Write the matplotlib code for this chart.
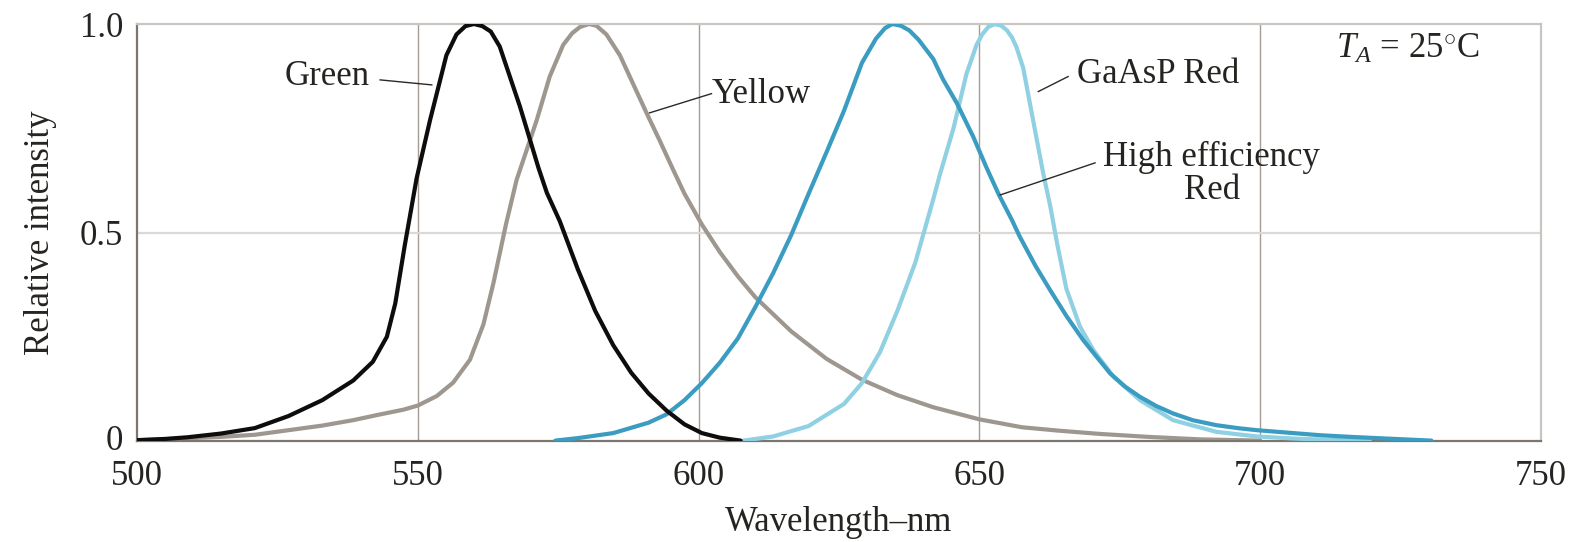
import numpy as np
import matplotlib
matplotlib.use('Agg')
import matplotlib.pyplot as plt
import matplotlib.transforms as mtransforms

plt.rcParams['font.family'] = ['Liberation Serif', 'DejaVu Serif']
plt.rcParams['mathtext.fontset'] = 'custom'
plt.rcParams['mathtext.it'] = 'Liberation Serif:italic'
plt.rcParams['mathtext.rm'] = 'Liberation Serif'

# --- data (wavelength nm, relative intensity) ---
green_wl = [500, 505, 509, 515, 521, 527, 533, 538.5, 542, 544.5, 546, 547.7,
            549.8, 552.2, 553.7, 555.1, 556.9, 558.5, 560, 561.5, 563, 564.6,
            566.4, 568.2, 570, 571.5, 573, 575.3, 578.5, 581.6, 584.8, 588,
            591.1, 594.3, 597.5, 600.6, 603.8, 607.5]
green_i = [0.002, 0.005, 0.009, 0.018, 0.031, 0.060, 0.098, 0.145, 0.190, 0.250,
           0.330, 0.470, 0.630, 0.770, 0.850, 0.925, 0.975, 0.995, 1.0, 0.995,
           0.982, 0.946, 0.874, 0.802, 0.722, 0.655, 0.595, 0.527, 0.412, 0.312,
           0.230, 0.164, 0.114, 0.073, 0.040, 0.019, 0.008, 0.001]

yellow_wl = [500, 508, 515, 521, 527, 533, 538.5, 543, 547.4, 550, 553.4, 556.3,
             559.3, 561.7, 563.5, 565.7, 567.6, 569.2, 571.2, 573.5, 575.9, 577.5,
             578.9, 580.5, 581.8, 583.6, 586, 588.4, 590.8, 593.1, 595.5, 597.5,
             600.6, 603.8, 607, 610.1, 616.5, 622.8, 629.1, 635.4, 641.8, 650,
             657.6, 664, 671.5, 680, 689.3, 700]
yellow_i = [0.002, 0.006, 0.010, 0.015, 0.026, 0.037, 0.050, 0.063, 0.075, 0.085,
            0.108, 0.140, 0.195, 0.280, 0.380, 0.519, 0.626, 0.690, 0.770, 0.874,
            0.950, 0.978, 0.993, 1.0, 0.996, 0.975, 0.925, 0.855, 0.785, 0.720,
            0.650, 0.593, 0.519, 0.453, 0.395, 0.345, 0.263, 0.197, 0.147, 0.110,
            0.081, 0.052, 0.033, 0.025, 0.017, 0.010, 0.004, 0.001]

he_red_wl = [574.5, 578.5, 584.8, 591.1, 594.3, 597.5, 600.6, 603.8, 607, 610.1,
             613.3, 616.5, 619.6, 622.8, 625.9, 629.1, 631.6, 633.2, 634.5, 636,
             637.5, 639.2, 641.8, 643.5, 646, 648.9, 651.3, 653.5, 655.8, 657.2,
             660, 662.6, 665.5, 668.5, 671, 673.3, 676, 678.6, 681.5, 684.5, 688,
             692.2, 696, 699.4, 705, 710.6, 716, 722.4, 730.5]
he_red_i = [0.001, 0.007, 0.019, 0.044, 0.064, 0.098, 0.139, 0.188, 0.246, 0.321,
            0.403, 0.494, 0.593, 0.693, 0.792, 0.907, 0.965, 0.990, 1.0, 0.996,
            0.985, 0.962, 0.916, 0.868, 0.810, 0.730, 0.655, 0.590, 0.530, 0.490,
            0.420, 0.362, 0.300, 0.242, 0.200, 0.162, 0.130, 0.106, 0.084, 0.066,
            0.050, 0.038, 0.031, 0.026, 0.020, 0.014, 0.010, 0.006, 0.001]

gaasp_wl = [608, 613.3, 619.6, 625.9, 629.1, 632.3, 635.4, 638.6, 641.8, 643,
            645.4, 647.7, 649.5, 650.5, 651.6, 652.8, 653.9, 654.9, 655.8, 656.6,
            657.8, 659, 660.2, 661.4, 662.6, 663.9, 665.5, 667.9, 670.3, 673.9,
            678.6, 684.5, 692.2, 699.4, 706, 712, 719.5]
gaasp_i = [0.001, 0.011, 0.036, 0.089, 0.139, 0.213, 0.312, 0.428, 0.580, 0.640,
           0.750, 0.880, 0.950, 0.975, 0.993, 1.0, 0.996, 0.985, 0.968, 0.945,
           0.895, 0.810, 0.725, 0.640, 0.565, 0.470, 0.365, 0.275, 0.218, 0.154,
           0.098, 0.050, 0.022, 0.011, 0.006, 0.003, 0.001]

x_ticks = [500, 550, 600, 650, 700, 750]
y_ticks = [0, 0.5, 1.0]
y_tick_labels = ['0', '0.5', '1.0']

text_col = '#262421'
fs = 25

fig = plt.figure(figsize=(15.74, 5.42), dpi=100)
ax = fig.add_axes([0.087, 0.1863, 0.892, 0.7694])

# grid
for xv in x_ticks[1:-1]:
    ax.axvline(xv, color='#a39d96', lw=1.0, zorder=0)
ax.axhline(0.5, color='#dcd8d4', lw=1.6, zorder=0)

lw = 3.0
ax.plot(yellow_wl, yellow_i, color='#9d978f', lw=lw, zorder=2,
        solid_capstyle='round', solid_joinstyle='round')
ax.plot(gaasp_wl, gaasp_i, color='#8fd0e2', lw=lw, zorder=3,
        solid_capstyle='round', solid_joinstyle='round')
ax.plot(he_red_wl, he_red_i, color='#3a9cc0', lw=lw, zorder=4,
        solid_capstyle='round', solid_joinstyle='round')
ax.plot(green_wl, green_i, color='#0e0d0c', lw=lw, zorder=5,
        solid_capstyle='round', solid_joinstyle='round')

ax.set_xlim(500, 750)
ax.set_ylim(0, 1.0)
ax.set_xticks(x_ticks)
ax.set_yticks(y_ticks)
ax.set_yticklabels(y_tick_labels)
ax.tick_params(length=0, labelsize=fs, labelcolor=text_col)
ax.tick_params(axis='x', pad=14)
ax.tick_params(axis='y', pad=10)

# nudge the "0" up a few pixels so it clears the "500" below it
zero_lbl = ax.get_yticklabels()[0]
zero_lbl.set_transform(zero_lbl.get_transform() +
                       mtransforms.ScaledTranslation(0, 4 / 100, fig.dpi_scale_trans))

for side in ['top', 'right']:
    ax.spines[side].set_color('#c9c5c0')
    ax.spines[side].set_linewidth(1.6)
for side in ['left', 'bottom']:
    ax.spines[side].set_color('#7d766e')
    ax.spines[side].set_linewidth(1.6)

ax.set_xlabel('Wavelength\u2013nm', fontsize=fs, color=text_col, labelpad=9)
ax.set_ylabel('Relative intensity', fontsize=fs, color=text_col, labelpad=16)

# curve labels with leader lines
lead = dict(color='#2b2926', lw=1.0, zorder=6)
ax.plot([543.3, 552.5], [0.866, 0.854], **lead)
ax.text(541.5, 0.875, 'Green', fontsize=fs, color=text_col, ha='right', va='center')

ax.plot([591.3, 602.3], [0.787, 0.833], **lead)
ax.text(602.4, 0.83, 'Yellow', fontsize=fs, color=text_col, ha='left', va='center')

ax.plot([660.5, 665.8], [0.838, 0.874], **lead)
ax.text(667.4, 0.88, 'GaAsP Red', fontsize=fs, color=text_col, ha='left', va='center')

ax.plot([653.7, 670.6], [0.590, 0.667], **lead)
ax.text(691.4, 0.64, 'High efficiency\nRed', fontsize=fs, color=text_col,
        ha='center', va='center', multialignment='center', linespacing=1.0)

ax.text(739.0, 0.94, r'$T_A$ = 25$^{\circ}$C', fontsize=fs, color=text_col,
        ha='right', va='center')

fig.savefig('out.png', dpi=100, facecolor='white')
